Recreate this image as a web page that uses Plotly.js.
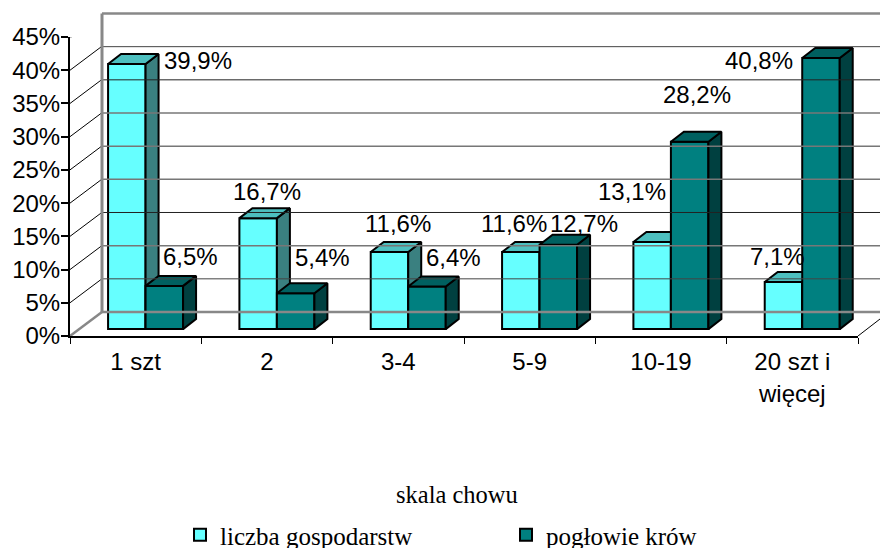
<!DOCTYPE html>
<html>
<head>
<meta charset="utf-8">
<script src="https://cdn.plot.ly/plotly-3.0.1.min.js"></script>
<style>html,body{margin:0;padding:0;background:#fff}</style>
</head>
<body>
<div id="chart" style="width:880px;height:548px"></div>
<script>
const categories = ['1 szt', '2', '3-4', '5-9', '10-19', '20 szt i<br>więcej'];
const farms = [39.9, 16.7, 11.6, 11.6, 13.1, 7.1];
const cows = [6.5, 5.4, 6.4, 12.7, 28.2, 40.8];
const farmsName = 'liczba gospodarstw';
const cowsName = 'pogłowie krów';
const yTicks = [0, 5, 10, 15, 20, 25, 30, 35, 40, 45];
const yTickText = ['0%', '5%', '10%', '15%', '20%', '25%', '30%', '35%', '40%', '45%'];

const W = 880, H = 548;
const frontL = 70, frontR = 858, frontB = 336, frontT = 37;
const backL = 102, backB = 312, backT = 13.5;
const catPx = (frontR - frontL) / 6;
const pxPerPct = (frontB - frontT) / 45;
const barW = 37.5 / catPx, off1 = -27.6 / catPx, off2 = off1 + barW;
const baseLift = 6.9 / pxPerPct;
const depthX = 13 / catPx, depthY = 10 / pxPerPct;
const xs = categories.map((c, i) => i + 0.5);
const backPad = (backB - backT) / 45;

const fmt = v => v.toFixed(1).replace('.', ',') + '%';
const line = {color: '#000', width: 2};

function bars(vals, name, color, offset, xa, ya) {
  return {type: 'bar', x: xs, y: vals, base: vals.map(() => baseLift), width: barW, offset: offset,
    name: name, xaxis: xa, yaxis: ya, marker: {color: color, line: line}, hoverinfo: 'y'};
}
function faces(vals, offset, sideColor, topColor, xa, ya) {
  const out = [];
  vals.forEach((v, i) => {
    const l = xs[i] + offset, r = l + barW, t = baseLift + v, b = baseLift;
    out.push({type: 'scatter', mode: 'lines', fill: 'toself', fillcolor: sideColor, line: line, showlegend: false, hoverinfo: 'skip',
      xaxis: xa, yaxis: ya,
      x: [r, r, r + depthX, r + depthX, r], y: [b, t, t + depthY, b + depthY, b]});
    out.push({type: 'scatter', mode: 'lines', fill: 'toself', fillcolor: topColor, line: line, showlegend: false, hoverinfo: 'skip',
      xaxis: xa, yaxis: ya,
      x: [l, l + depthX, r + depthX, r, l], y: [t, t + depthY, t + depthY, t, t]});
  });
  return out;
}

const data = [
  bars(farms, farmsName, '#66FFFF', off1, 'x', 'y'),
  ...faces(farms, off1, '#3A8080', '#4DBFBF', 'x', 'y'),
  bars(cows, cowsName, '#008080', off2, 'x2', 'y2'),
  ...faces(cows, off2, '#004040', '#006060', 'x2', 'y2')
];

// label placement, px relative to each bar's top centre
const dx1 = [71, 9, 8.5, -7, -20, -5.5];
const dy1 = [3.7, 27, 29, 29, 51, 25];
const dx2 = [26, 27.3, 27, 25.7, 7.3, -62];
const dy2 = [29, 36, 29.5, 21.6, 47, -2];
const annotations = [];
function addLabels(vals, offset, dx, dy) {
  vals.forEach((v, i) => {
    annotations.push({x: xs[i] + offset + barW / 2, y: baseLift + v, xref: 'x', yref: 'y', text: fmt(v), showarrow: false,
      xshift: dx[i], yshift: dy[i], font: {family: 'Liberation Sans', size: 24, color: '#000'}});
  });
}
addLabels(farms, off1, dx1, dy1);
addLabels(cows, off2, dx2, dy2);
annotations.push({x: 457 / W, y: 1 - 494 / H, xref: 'paper', yref: 'paper', xanchor: 'center', yanchor: 'middle', text: 'skala chowu', showarrow: false,
  font: {family: 'Liberation Serif', size: 24.5, color: '#000'}});

// walls: back-wall grid, side-wall diagonals, floor
const gridColors = {0: '#888', 5: '#444', 10: '#777', 15: '#222', 20: '#777', 25: '#777', 30: '#777', 35: '#222', 40: '#444', 45: '#888'};
const gridWidths = {0: 2.5, 5: 1, 10: 1.5, 15: 1, 20: 1.5, 25: 1.5, 30: 1.5, 35: 1, 40: 1, 45: 2.5};
const shapes = [];
yTicks.forEach(t => {
  const edge = (t === 0 || t === 45);
  shapes.push({type: 'line', layer: 'below', xref: 'x3', yref: 'y3', x0: 0, x1: W - backL, y0: t, y1: t, line: {color: gridColors[t], width: gridWidths[t]}});
  shapes.push({type: 'line', layer: 'below', xref: 'paper', yref: 'y', xsizemode: 'pixel', ysizemode: 'pixel',
    xanchor: frontL / W, yanchor: t, x0: 0, x1: backL - frontL, y0: 0, y1: frontB - backB, line: {color: edge ? '#888' : '#000', width: edge ? 2.5 : 1}});
});
shapes.push({type: 'line', layer: 'below', xref: 'x3', yref: 'y3', x0: 0, x1: 0, y0: 0, y1: 45, line: {color: '#888', width: 3}});
shapes.push({type: 'line', layer: 'below', xref: 'paper', yref: 'y', xsizemode: 'pixel', ysizemode: 'pixel',
  xanchor: frontR / W, yanchor: 0, x0: 0, x1: 22, y0: 0, y1: 17, line: {color: '#000', width: 1}});

const layout = {
  width: W, height: H, margin: {l: 0, r: 0, t: 0, b: 0, autoexpand: false},
  paper_bgcolor: '#fff', plot_bgcolor: 'rgba(0,0,0,0)',
  barmode: 'overlay', showlegend: true,
  font: {family: 'Liberation Sans', color: '#000'},
  xaxis: {domain: [frontL / W, frontR / W], range: [0, 6], tickmode: 'array', tickvals: xs, ticktext: categories,
    ticks: '', ticklabelstandoff: 4, showgrid: false, zeroline: false, showline: true, linecolor: '#000', linewidth: 1.5, anchor: 'y',
    tickfont: {family: 'Liberation Sans', size: 24, color: '#000'},
    minor: {tickmode: 'array', tickvals: [0, 1, 2, 3, 4, 5, 6], ticks: 'outside', ticklen: 6, tickcolor: '#000', tickwidth: 1, showgrid: false}},
  yaxis: {domain: [1 - frontB / H, 1 - frontT / H], range: [0, 45], tickmode: 'array', tickvals: yTicks, ticktext: yTickText,
    ticks: 'outside', ticklen: 7, tickwidth: 2, tickcolor: '#000', ticklabelstandoff: -4, showgrid: false, zeroline: false, showline: true, linecolor: '#000', linewidth: 2, anchor: 'x',
    tickfont: {family: 'Liberation Sans', size: 24, color: '#000'}},
  xaxis2: {overlaying: 'x', matches: 'x', visible: false, anchor: 'y2'},
  yaxis2: {overlaying: 'y', matches: 'y', visible: false, anchor: 'x2'},
  xaxis3: {domain: [(backL - 10) / W, 1], range: [-10, W - backL], visible: false, anchor: 'y3'},
  yaxis3: {domain: [1 - (backB + backPad) / H, 1 - (backT - backPad) / H], range: [-1, 46], visible: false, anchor: 'x3'},
  legend: {orientation: 'h', x: 180 / W, xanchor: 'left', y: 1 - 535 / H, yanchor: 'middle', entrywidth: 281, entrywidthmode: 'pixels',
    bgcolor: 'rgba(0,0,0,0)', borderwidth: 0, font: {family: 'Liberation Serif', size: 25, color: '#000'}},
  shapes: shapes, annotations: annotations
};
Plotly.newPlot('chart', data, layout, {displayModeBar: false, staticPlot: true});
</script>
</body>
</html>
